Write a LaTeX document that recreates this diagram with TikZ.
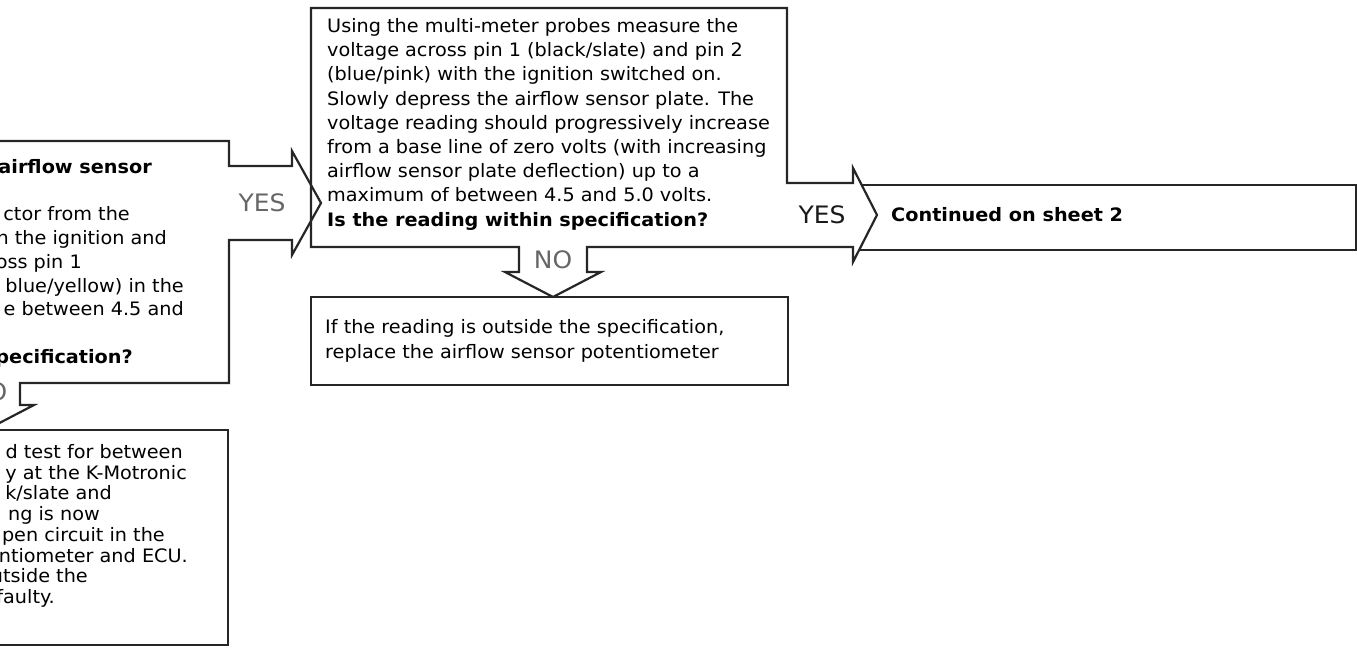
\documentclass[tikz,border=0pt]{standalone}
\usepackage{fontspec}
\setmainfont{DejaVu Sans}[FakeStretch=1.04]
\begin{document}
\begin{tikzpicture}[x=1pt,y=-1pt,
  outline/.style={draw=black!85, line width=2.2pt, line join=miter},
  txt/.style={inner sep=0pt, anchor=base west, font=\fontsize{18.5}{22}\selectfont, text=black},
  qtxt/.style={txt, font=\fontsize{18.5}{22}\selectfont\bfseries},
  rtxt/.style={txt, anchor=base east},
  rqtxt/.style={qtxt, anchor=base east},
  lbl/.style={inner sep=0pt, font=\fontsize{24}{28}\selectfont, text=black!90},
  glbl/.style={lbl, text=black!60}]
\useasboundingbox (0,0) rectangle (1357,652);
\clip (0,0) rectangle (1357,652);

% ---------- outlines ----------
% left upper box with YES arrow and NO arrow
\draw[outline] (-80,141) -- (229,141) -- (229,166) -- (292,166) -- (292,151)
  -- (321,203) -- (292,255) -- (292,240) -- (229,240) -- (229,383)
  -- (20,383) -- (20,405) -- (34,405) -- (-14,430) -- (-62,405) -- (-48,405)
  -- (-48,383) -- (-80,383);
% left lower box
\draw[outline] (-80,430) -- (228,430) -- (228,645) -- (-80,645);
% middle box with NO arrow and YES arrow
\draw[outline] (311,247) -- (311,8) -- (787,8) -- (787,183) -- (853,183)
  -- (853,168) -- (877,215) -- (853,262) -- (853,247) -- (587,247)
  -- (587,272) -- (601,272) -- (553,297) -- (505,272) -- (519,272)
  -- (519,247) -- cycle;
% continued box
\draw[outline] (861.7,185) -- (1356,185) -- (1356,250) -- (859.1,250);
% lower middle box
\draw[outline] (311,297) rectangle (788,385);

% ---------- texts ----------
% left upper box (cut off at the left)
\node[rqtxt] (l1) at (152,173.5) {airflow sensor};
\node[rtxt] (l2) at (130,221) {ctor from the};
\node[rtxt] (l3) at (167,244.75) {n the ignition and};
\node[rtxt] (l4) at (82,268.5) {oss pin 1};
\node[rtxt] (l5) at (184,292.25) {blue/yellow) in the};
\node[rtxt] (l6) at (184,316) {e between 4.5 and};
\node[rqtxt] (l7) at (133,363.5) {pecification?};
% left lower box
\node[rtxt] (k1) at (183,458.5) {d test for between};
\node[rtxt] (k2) at (187,479.2) {y at the K-Motronic};
\node[rtxt] (k3) at (112,499.9) {k/slate and};
\node[rtxt] (k4) at (100,520.6) {ng is now};
\node[rtxt] (k5) at (165,541.3) {pen circuit in the};
\node[rtxt] (k6) at (188,562) {ntiometer and ECU.};
\node[rtxt] (k7) at (88,582.7) {utside the};
\node[rtxt] (k8) at (55,603.4) {faulty.};
% middle box
\node[txt] (m1) at (327,32.5) {Using the multi-meter probes measure the};
\node[txt] (m2) at (327,56.7) {voltage across pin 1 (black/slate) and pin 2};
\node[txt] (m3) at (327,80.9) {(blue/pink) with the ignition switched on.};
\node[txt] (m4) at (327,105.1) {Slowly depress the airflow sensor plate. The};
\node[txt] (m5) at (327,129.3) {voltage reading should progressively increase};
\node[txt] (m6) at (327,153.5) {from a base line of zero volts (with increasing};
\node[txt] (m7) at (327,177.7) {airflow sensor plate deflection) up to a};
\node[txt] (m8) at (327,201.9) {maximum of between 4.5 and 5.0 volts.};
\node[qtxt] (m9) at (327,226.1) {Is the reading within specification?};
% lower middle box
\node[txt] (n1) at (325,333.5) {If the reading is outside the specification,};
\node[txt] (n2) at (325,358.5) {replace the airflow sensor potentiometer};
% continued box
\node[qtxt] (c1) at (891,221.5) {Continued on sheet 2};
% arrow labels
\node[glbl] (yes1) at (262,203) {YES};
\node[lbl] (yes2) at (822,215) {YES};
\node[glbl] (no1) at (553,260) {NO};
\node[glbl] (no2) at (-12,392) {NO};
\end{tikzpicture}
\end{document}
